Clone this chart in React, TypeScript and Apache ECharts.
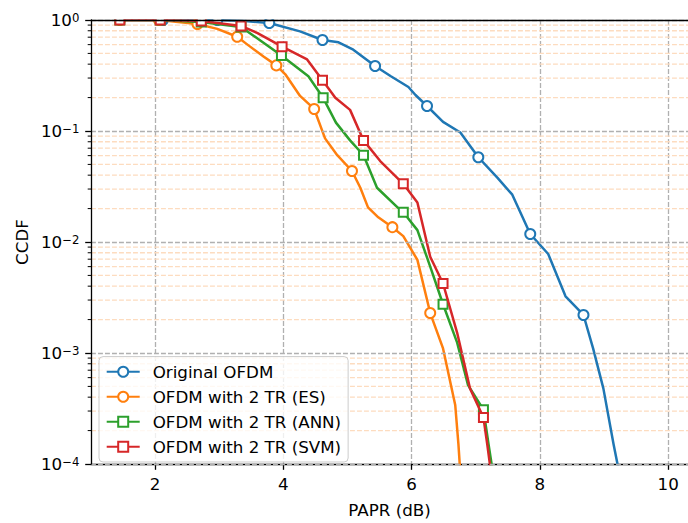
import React, { useEffect, useRef } from "react";
import * as echarts from "echarts";

// ---- data ----
const origX = [2.12, 2.97, 3.40, 3.78, 4.26, 4.61, 4.86, 5.09, 5.43, 5.67, 5.95, 6.06, 6.24, 6.49, 6.76, 7.04, 7.34, 7.57, 7.85, 8.13, 8.40, 8.68, 8.83, 8.99, 9.15, 9.24];
const origY = [1.0, 1.0, 0.98, 0.94, 0.79, 0.66, 0.63, 0.54, 0.385, 0.313, 0.249, 0.211, 0.168, 0.121, 0.097, 0.058, 0.0378, 0.0267, 0.0118, 0.0078, 0.00324, 0.0022, 0.0011, 0.00048, 0.00015, 0.000082];
const origMarks = [0, 1, 3, 5, 8, 12, 15, 18, 21];

const esX = [1.45, 2.06, 2.66, 2.97, 3.28, 3.44, 3.69, 3.89, 4.03, 4.26, 4.48, 4.65, 4.84, 5.07, 5.20, 5.32, 5.48, 5.70, 5.87, 6.09, 6.29, 6.49, 6.68, 6.73, 6.76];
const esY = [1.0, 1.0, 0.921, 0.832, 0.706, 0.600, 0.469, 0.390, 0.324, 0.207, 0.158, 0.0858, 0.0605, 0.0436, 0.0308, 0.0205, 0.0167, 0.0136, 0.0113, 0.0069, 0.00229, 0.0011, 0.00034, 0.00015, 0.000082];
const esMarks = [0, 1, 2, 4, 7, 10, 13, 17, 20];

const annX = [1.45, 2.08, 2.72, 3.34, 3.69, 3.97, 4.39, 4.62, 4.82, 5.04, 5.25, 5.46, 5.78, 5.87, 6.09, 6.29, 6.49, 6.71, 6.88, 7.12, 7.20, 7.27];
const annY = [1.0, 1.0, 0.96, 0.866, 0.625, 0.479, 0.311, 0.199, 0.119, 0.0823, 0.0605, 0.0308, 0.0205, 0.0185, 0.0128, 0.006, 0.00275, 0.00124, 0.000514, 0.000308, 0.00015, 0.000082];
const annMarks = [0, 1, 2, 3, 5, 7, 10, 13, 16, 19];

const svmX = [1.45, 2.08, 2.72, 3.34, 3.59, 3.98, 4.37, 4.61, 4.81, 5.04, 5.25, 5.51, 5.87, 6.09, 6.29, 6.49, 6.71, 6.91, 7.12, 7.18, 7.24];
const svmY = [1.0, 1.0, 0.98, 0.884, 0.766, 0.575, 0.441, 0.287, 0.199, 0.155, 0.0823, 0.0536, 0.0334, 0.0227, 0.00736, 0.00423, 0.00152, 0.00048, 0.000262, 0.00015, 0.000082];
const svmMarks = [0, 1, 2, 3, 5, 7, 10, 12, 15, 18];

const seriesNames = ["Original OFDM", "OFDM with 2 TR (ES)", "OFDM with 2 TR (ANN)", "OFDM with 2 TR (SVM)"];
const xTicks = [2, 4, 6, 8, 10];
const yDecades = [1e-4, 1e-3, 1e-2, 1e-1];
const yMinorMult = [2, 3, 4, 5, 6, 7, 8, 9];

const X_MIN = 1;
const X_MAX = 10.31;
const FONT = "DejaVu Sans";
const FS = 16.7;
const COLORS = ["#1f77b4", "#ff7f0e", "#2ca02c", "#d62728"];
const MAJOR_GRID = "#b0b0b0";
const MINOR_GRID = "#fddcbf";
const GRID_LEFT = 91;
const GRID_TOP = 20;

function buildData(xs: number[], ys: number[], marks: number[]) {
  return xs.map((x, i) =>
    marks.indexOf(i) >= 0 ? { value: [x, ys[i]] } : { value: [x, ys[i]], symbol: "none" }
  );
}

export default function App() {
  const ref = useRef<HTMLDivElement>(null);
  useEffect(() => {
    if (!ref.current) return;
    const chart = echarts.init(ref.current, undefined, { renderer: "svg" });
    const minorVals: number[][] = [];
    yDecades.forEach((d) => yMinorMult.forEach((m) => minorVals.push([X_MIN, d * m])));

    const lineSeries = [
      { xs: origX, ys: origY, marks: origMarks, symbol: "emptyCircle", size: 10 },
      { xs: esX, ys: esY, marks: esMarks, symbol: "emptyCircle", size: 10 },
      { xs: annX, ys: annY, marks: annMarks, symbol: "emptyRect", size: 9 },
      { xs: svmX, ys: svmY, marks: svmMarks, symbol: "emptyRect", size: 9 },
    ].map((s, i) => ({
      name: seriesNames[i],
      type: "line",
      data: buildData(s.xs, s.ys, s.marks),
      symbol: s.symbol,
      symbolSize: s.size,
      showAllSymbol: true,
      clip: true,
      z: 3 + i,
      lineStyle: { color: COLORS[i], width: 2.5, join: "round" },
      itemStyle: { color: COLORS[i], borderColor: COLORS[i], borderWidth: 1.8 },
      emphasis: { disabled: true },
    }));

    const axisLineStyle = { color: "#000", width: 1.3 };
    const labelStyle = { fontSize: FS, fontFamily: FONT, color: "#000" };

    chart.setOption({
      animation: false,
      backgroundColor: "#fff",
      textStyle: { fontFamily: FONT },
      grid: { left: GRID_LEFT, right: 0, top: GRID_TOP, bottom: 53, containLabel: false },
      graphic: [
        {
          // hides the halves of markers that sit above the top spine (axes clipping)
          type: "rect",
          z: 50,
          silent: true,
          shape: { x: GRID_LEFT + 0.7, y: 0, width: 688, height: GRID_TOP - 0.65 },
          style: { fill: "#fff" },
        },
      ],
      legend: {
        data: seriesNames,
        orient: "vertical",
        left: 99,
        bottom: 61,
        z: 60,
        itemWidth: 33,
        itemHeight: 12.5,
        itemGap: 8,
        align: "left",
        padding: [6.7, 7, 6.7, 6.7],
        backgroundColor: "rgba(255,255,255,0.8)",
        borderColor: "#cccccc",
        borderWidth: 1,
        borderRadius: 4,
        selectedMode: false,
        textStyle: { fontSize: FS, fontFamily: FONT, color: "#000", padding: [0, 0, 0, 8] },
      },
      xAxis: [
        {
          type: "value",
          min: X_MIN,
          max: X_MAX,
          position: "bottom",
          name: "PAPR (dB)",
          nameLocation: "middle",
          nameGap: 37,
          nameTextStyle: labelStyle,
          axisLine: { show: true, onZero: false, lineStyle: axisLineStyle },
          axisTick: { show: true, inside: false, length: 5.8, customValues: xTicks, lineStyle: axisLineStyle },
          axisLabel: { customValues: xTicks, margin: 11.6, ...labelStyle },
          splitLine: { show: true, lineStyle: { color: MAJOR_GRID, width: 1.3, type: [4.9, 2.1] } },
        },
        {
          type: "value",
          min: X_MIN,
          max: X_MAX,
          position: "top",
          z: 70,
          axisLine: { show: true, onZero: false, lineStyle: axisLineStyle },
          axisTick: { show: false },
          axisLabel: { show: false },
          splitLine: { show: false },
        },
      ],
      yAxis: {
        type: "log",
        logBase: 10,
        min: 1e-4,
        max: 1,
        z: 70,
        name: "CCDF",
        nameLocation: "middle",
        nameGap: 52,
        nameRotate: 90,
        nameTextStyle: labelStyle,
        axisLine: { show: true, onZero: false, lineStyle: axisLineStyle },
        axisTick: { show: true, inside: false, length: 5.8, lineStyle: axisLineStyle },
        axisLabel: {
          margin: 11.6,
          ...labelStyle,
          formatter: (v: number) => {
            const e = Math.round(Math.log10(v));
            const s = String(e).replace("-", "−");
            return "{b|10}{s|" + s + "}";
          },
          rich: {
            b: { fontSize: FS, fontFamily: FONT, color: "#000", lineHeight: 17 },
            s: { fontSize: 11.7, fontFamily: FONT, color: "#000", lineHeight: 8, verticalAlign: "top" },
          },
        },
        splitLine: { show: true, lineStyle: { color: MAJOR_GRID, width: 1.3, type: [4.9, 2.1] } },
        minorTick: { show: false },
        minorSplitLine: { show: false },
      },
      series: [
        {
          type: "custom",
          coordinateSystem: "cartesian2d",
          data: minorVals,
          encode: { x: 0, y: 1 },
          silent: true,
          z: 1,
          clip: false,
          renderItem: (params: any, api: any) => {
            const v = api.value(1);
            const a = api.coord([X_MIN, v]);
            const b = api.coord([X_MAX, v]);
            return {
              type: "group",
              children: [
                {
                  type: "line",
                  shape: { x1: a[0], y1: a[1], x2: b[0], y2: b[1] },
                  style: { stroke: MINOR_GRID, lineWidth: 1.3, lineDash: [4.9, 2.1] },
                },
                {
                  type: "line",
                  shape: { x1: a[0] - 3.3, y1: a[1], x2: a[0], y2: a[1] },
                  style: { stroke: "#000", lineWidth: 1.0 },
                },
              ],
            };
          },
        },
        ...lineSeries,
      ],
    });
    return () => chart.dispose();
  }, []);
  return <div ref={ref} style={{ position: "fixed", left: 0, top: 0, width: 688, height: 523 }} />;
}
